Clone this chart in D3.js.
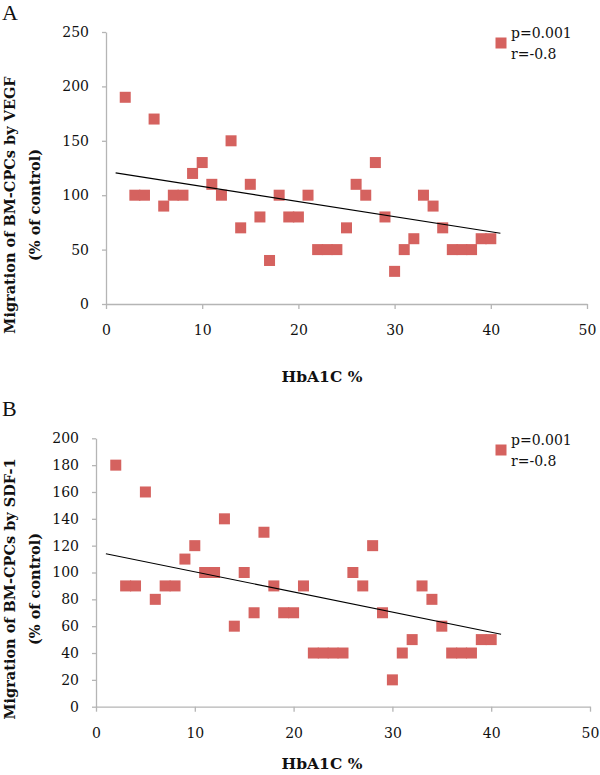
<!DOCTYPE html>
<html>
<head>
<meta charset="utf-8">
<script src="https://cdn.jsdelivr.net/npm/d3@7"></script>
<style>
  html, body { margin: 0; padding: 0; background: #fff; }
  svg { display: block; }
</style>
</head>
<body>
<svg id="chart" width="600" height="775"></svg>
<script>
// ---- Data ----
const hba1cA = [2,3,4,5,6,7,8,9,10,11,12,13,14,15,16,17,18,19,20,21,22,23,24,25,26,27,28,29,30,31,32,33,34,35,36,37,38,39,40];
const migrationVEGF = [190,100,100,170,90,100,100,120,130,110,100,150,70,110,80,40,100,80,80,100,50,50,50,70,110,100,130,80,30,50,60,100,90,70,50,50,50,60,60];
const trendA_x = [1, 41];
const trendA_y = [120.5, 65];

const hba1cB = [2,3,4,5,6,7,8,9,10,11,12,13,14,15,16,17,18,19,20,21,22,23,24,25,26,27,28,29,30,31,32,33,34,35,36,37,38,39,40];
const migrationSDF = [180,90,90,160,80,90,90,110,120,100,100,140,60,100,70,130,90,70,70,90,40,40,40,40,100,90,120,70,20,40,50,90,80,60,40,40,40,50,50];
const trendB_x = [1, 41];
const trendB_y = [114, 54];

const xTicks = [0,10,20,30,40,50];
const yTicksA = [0,50,100,150,200,250];
const yTicksB = [0,20,40,60,80,100,120,140,160,180,200];
const legendLines = ["p=0.001", "r=-0.8"];
const panelLabels = ["A", "B"];
const xTitle = "HbA1C %";
const yTitlesA = ["Migration of BM-CPCs by VEGF", "(% of control)"];
const yTitlesB = ["Migration of BM-CPCs by SDF-1", "(% of control)"];

// ---- Drawing ----
const svg = d3.select("#chart");
const MARKER = "#d5625f";
const AXIS = "#b5b5b5";
const SERIF = "'DejaVu Serif', serif";

function panel(cfg) {
  const g = svg.append("g");
  const x = d3.scaleLinear().domain([0, 50]).range([cfg.left, cfg.right]);
  const y = d3.scaleLinear().domain([0, cfg.ymax]).range([cfg.bottom, cfg.top]);

  // x axis
  const xa = g.append("g").attr("transform", `translate(0,${cfg.bottom})`)
    .call(d3.axisBottom(x).tickValues(xTicks).tickSize(5).tickSizeOuter(0).tickPadding(16).tickFormat(d3.format("d")));
  // y axis
  const ya = g.append("g").attr("transform", `translate(${cfg.left},0)`)
    .call(d3.axisLeft(y).tickValues(cfg.yTicks).tickSize(4).tickSizeOuter(0).tickPadding(13).tickFormat(d3.format("d")));
  [xa, ya].forEach(a => {
    a.selectAll("path.domain").attr("stroke", AXIS).attr("stroke-width", 1.3);
    a.selectAll(".tick line").attr("stroke", AXIS).attr("stroke-width", 1.3);
    a.selectAll(".tick text").attr("fill", "#111").style("font-family", SERIF).style("font-size", "14px");
  });

  // points
  const s = 11;
  g.append("g").selectAll("rect").data(cfg.xs.map((v, i) => [v, cfg.ys[i]])).join("rect")
    .attr("x", d => x(d[0]) - s / 2).attr("y", d => y(d[1]) - s / 2)
    .attr("width", s).attr("height", s).attr("fill", MARKER);

  // trend line
  const line = d3.line().x(d => x(d[0])).y(d => y(d[1]));
  g.append("path").datum(cfg.tx.map((v, i) => [v, cfg.ty[i]]))
    .attr("d", line).attr("fill", "none").attr("stroke", "#000").attr("stroke-width", 1.1);

  // legend
  g.append("rect").attr("x", 501 - s / 2).attr("y", cfg.legY - s / 2).attr("width", s).attr("height", s).attr("fill", MARKER);
  g.selectAll("text.leg").data(legendLines).join("text").attr("class", "leg")
    .attr("x", 511).attr("y", (d, i) => cfg.legY - 10 + i * 21 + 5)
    .style("font-family", SERIF).style("font-size", "14px").attr("fill", "#111").text(d => d);

  // panel label
  g.append("text").attr("x", 2).attr("y", cfg.labelY)
    .style("font-family", "'Liberation Serif', serif").style("font-size", "22px").attr("fill", "#111").text(cfg.label);

  // x title
  g.append("text").attr("x", 322).attr("y", cfg.xTitleY).attr("text-anchor", "middle")
    .style("font-family", SERIF).style("font-weight", "bold").style("font-size", "15.5px").attr("fill", "#111").text(xTitle);

  // y title
  const yt = g.append("text").attr("transform", `translate(0,${cfg.yTitleC}) rotate(-90)`)
    .attr("text-anchor", "middle")
    .style("font-family", SERIF).style("font-weight", "bold").style("font-size", "14.5px").attr("fill", "#111");
  yt.selectAll("tspan").data(cfg.yTitles).join("tspan")
    .attr("x", 0).attr("y", (d, i) => 15 + i * 25).text(d => d);
}

panel({ left: 106, right: 587, top: 32, bottom: 304, ymax: 250, yTicks: yTicksA,
  xs: hba1cA, ys: migrationVEGF, tx: trendA_x, ty: trendA_y,
  legY: 43, label: panelLabels[0], labelY: 20, xTitleY: 382, yTitleC: 205, yTitles: yTitlesA });

panel({ left: 96, right: 590, top: 438.3, bottom: 706.7, ymax: 200, yTicks: yTicksB,
  xs: hba1cB, ys: migrationSDF, tx: trendB_x, ty: trendB_y,
  legY: 450, label: panelLabels[1], labelY: 416, xTitleY: 769, yTitleC: 589, yTitles: yTitlesB });
</script>
</body>
</html>
